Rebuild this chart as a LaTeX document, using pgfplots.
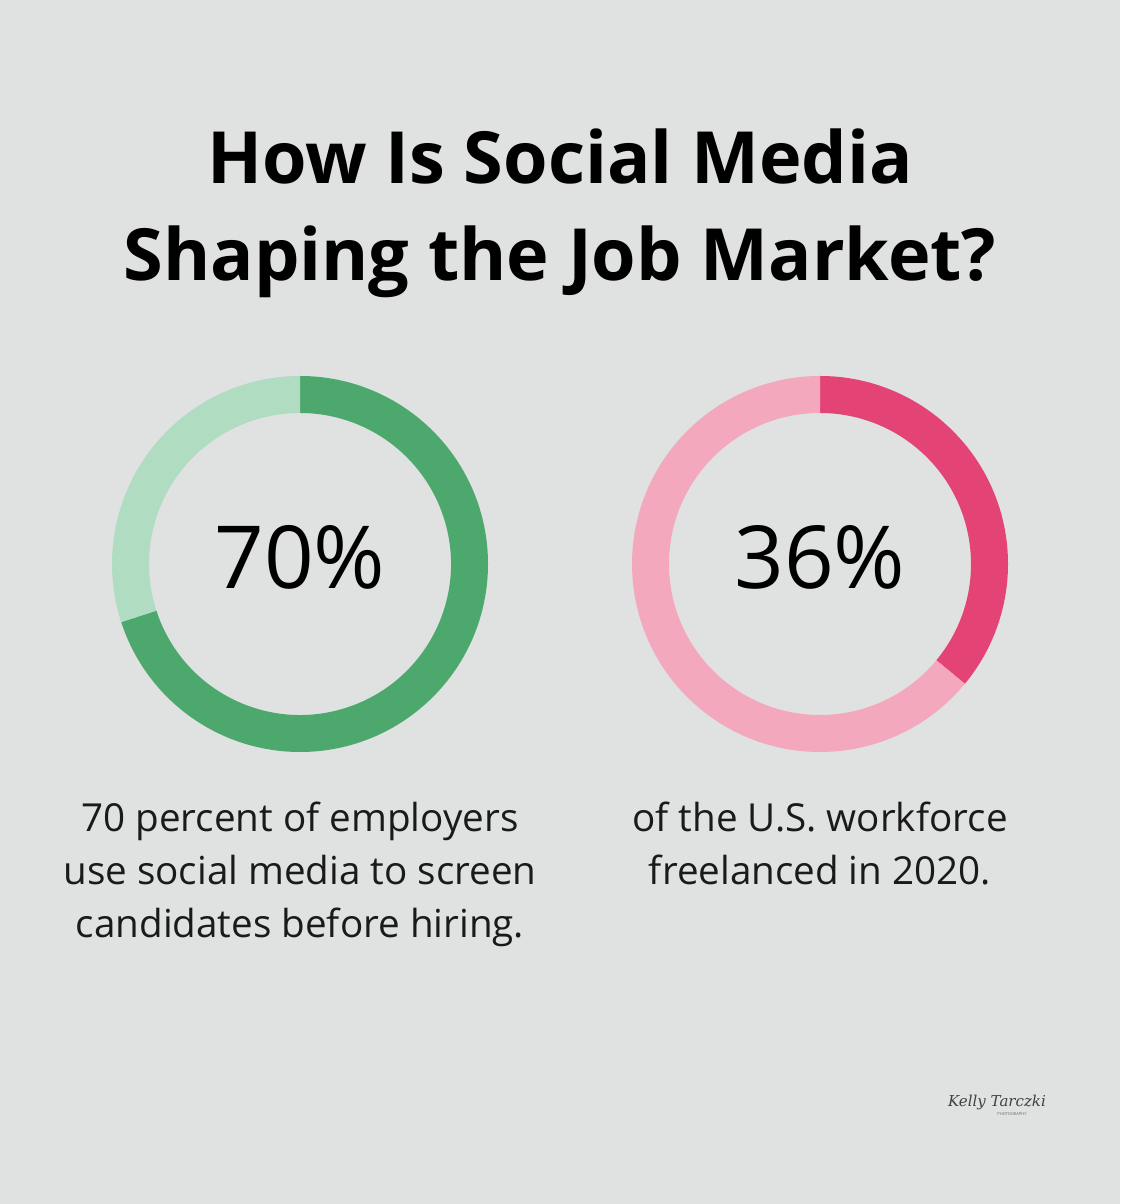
\documentclass[border=0pt]{standalone}
\usepackage{pgfplots}
\pgfplotsset{compat=1.18}
\usepackage{fontspec}
\setmainfont{Open Sans}
\newfontfamily\sigfont{DejaVu Serif}

\definecolor{bg}{HTML}{E0E2E1}
\definecolor{gdark}{HTML}{4DA86E}
\definecolor{glight}{HTML}{B0DCC2}
\definecolor{pdark}{HTML}{E44376}
\definecolor{plight}{HTML}{F3A8BE}
\definecolor{body}{HTML}{1A1A1A}

\tikzset{captxt/.style={anchor=base, text=body, font={\fontsize{38.6}{53}\selectfont}}}

% shares (percent) read off the two rings
\def\shareA{70}
\def\shareB{36}

% ring segment: centre x, centre y, start angle, end angle, colour
\newcommand{\ringseg}[5]{%
  \fill[#5] (axis cs:#1,#2) ++(#3:188pt) arc[start angle=#3, end angle=#4, radius=188pt]
    -- ++(#4:-37pt) arc[start angle=#4, end angle=#3, radius=151pt] -- cycle;
}

\begin{document}
\begin{tikzpicture}
\pgfmathsetmacro{\endA}{90-3.6*\shareA}
\pgfmathsetmacro{\endB}{90-3.6*\shareB}
\begin{axis}[
  scale only axis,
  width=1120pt, height=1204pt,
  xmin=0, xmax=1120, ymin=0, ymax=1204,
  hide axis, clip=false,
]
\fill[bg] (axis cs:0,0) rectangle (axis cs:1120,1204);

% title
\node[anchor=base, font={\fontsize{72}{97}\selectfont\bfseries}] at (axis cs:560,1020) {How Is Social Media};
\node[anchor=base, font={\fontsize{72}{97}\selectfont\bfseries}] at (axis cs:560,923) {Shaping the Job Market?};

% left ring: 70 %
\ringseg{300}{640}{90}{\endA}{gdark}
\ringseg{300}{640}{\endA}{-270}{glight}
\node[anchor=base, font={\fontsize{87}{87}\selectfont}] at (axis cs:300,615) {\shareA\%};

% right ring: 36 %
\ringseg{820}{640}{90}{\endB}{pdark}
\ringseg{820}{640}{\endB}{-270}{plight}
\node[anchor=base, font={\fontsize{87}{87}\selectfont}] at (axis cs:820,615) {\shareB\%};

% captions
\node[captxt] at (axis cs:300,372) {70 percent of employers};
\node[captxt] at (axis cs:300,319) {use social media to screen};
\node[captxt] at (axis cs:300,266) {candidates before hiring.};
\node[captxt] at (axis cs:820,372) {of the U.S. workforce};
\node[captxt] at (axis cs:820,319) {freelanced in 2020.};

% signature
\node[anchor=base, text=black!75, font={\sigfont\itshape\fontsize{15}{15}\selectfont}] at (axis cs:997,97) {Kelly Tarczki};
\node[anchor=base, text=black!60, font={\fontsize{4}{4}\selectfont}] at (axis cs:1012,88) {PHOTOGRAPHY};
\end{axis}
\end{tikzpicture}
\end{document}
